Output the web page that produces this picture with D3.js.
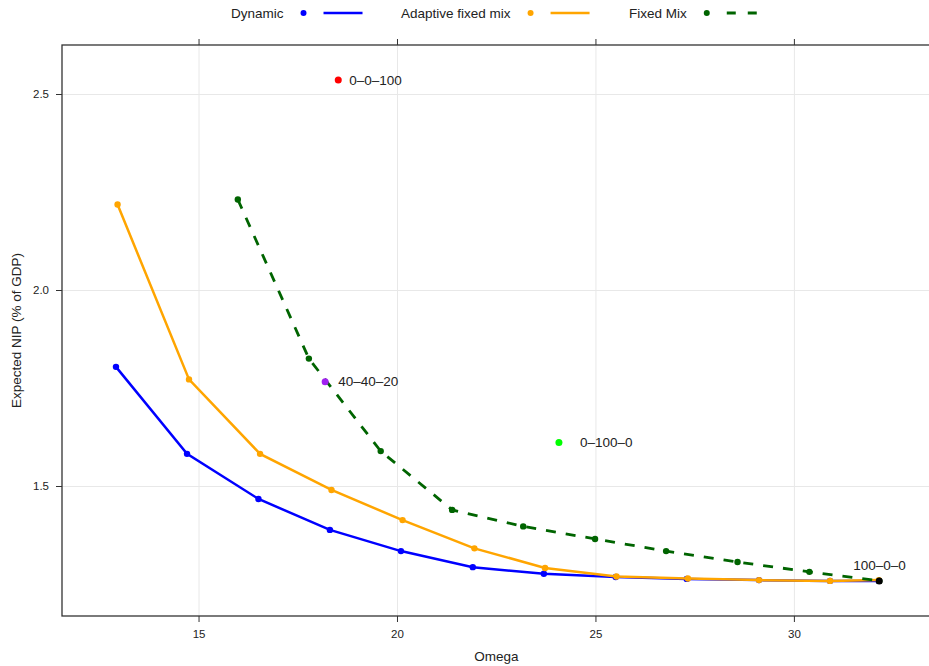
<!DOCTYPE html>
<html>
<head>
<meta charset="utf-8">
<script src="https://cdn.jsdelivr.net/npm/d3@7"></script>
<style>
  body { margin: 0; background: #fff; }
  svg { font-family: "Liberation Sans", Arial, sans-serif; }
  .axis path { display: none; }
  .axis line { stroke: #333; }
  .axis text { font-size: 11.5px; fill: #222; }
  .grid line { stroke: #e8e8e8; stroke-width: 1; }
  .grid path { display: none; }
</style>
</head>
<body>
<svg id="chart" width="929" height="666"></svg>
<script>
'use strict';

// Dynamic strategy
const dynOmega = [12.92, 14.71, 16.51, 18.31, 20.10, 21.91, 23.70, 25.51, 27.30, 29.12, 30.91, 32.14];
const dynNip   = [1.804, 1.582, 1.467, 1.388, 1.334, 1.293, 1.276, 1.268, 1.263, 1.260, 1.258, 1.258];

// Adaptive fixed mix
const adaOmega = [12.96, 14.76, 16.55, 18.35, 20.14, 21.95, 23.73, 25.53, 27.33, 29.12, 30.91, 32.14];
const adaNip   = [2.218, 1.772, 1.582, 1.490, 1.413, 1.341, 1.291, 1.269, 1.264, 1.260, 1.258, 1.260];

// Fixed mix
const fixOmega = [15.99, 17.78, 19.59, 21.39, 23.18, 24.99, 26.78, 28.58, 30.39, 32.15];
const fixNip   = [2.231, 1.825, 1.589, 1.439, 1.397, 1.365, 1.334, 1.306, 1.281, 1.258];

// single portfolios
const mixLabels = ['0\u20130\u2013100', '40\u201340\u201320', '0\u2013100\u20130', '100\u20130\u20130'];
const mixOmega  = [18.52, 18.19, 24.08, 32.15];
const mixNip    = [2.536, 1.766, 1.611, 1.258];

const xTicks = [15, 20, 25, 30];
const yTicks = [1.5, 2.0, 2.5];

const series = [
  { name: 'Dynamic', xs: dynOmega, ys: dynNip, color: '#0000FF', dash: null },
  { name: 'Adaptive fixed mix', xs: adaOmega, ys: adaNip, color: '#FFA500', dash: null },
  { name: 'Fixed Mix', xs: fixOmega, ys: fixNip, color: '#006400', dash: '10,10' }
];
const mixColors = ['#FF0000', '#A020F0', '#00FF00', '#000000'];
const mixOffsets = [[11, 0], [13, 0], [21, 0], [-26, -16]];

const svg = d3.select('#chart');
const m = { left: 62, top: 45, right: 936, bottom: 616 };

const x = d3.scaleLinear().domain([11.56, 33.58]).range([m.left, m.right]);
const y = d3.scaleLinear().domain([1.1684, 2.625]).range([m.bottom, m.top]);

// grid
svg.append('g').attr('class', 'grid')
  .attr('transform', `translate(0,${m.bottom})`)
  .call(d3.axisBottom(x).tickValues(xTicks).tickSize(-(m.bottom - m.top)).tickFormat(''));
svg.append('g').attr('class', 'grid')
  .attr('transform', `translate(${m.left},0)`)
  .call(d3.axisLeft(y).tickValues(yTicks).tickSize(-(m.right - m.left)).tickFormat(''));

// axes
svg.append('g').attr('class', 'axis')
  .attr('transform', `translate(0,${m.bottom})`)
  .call(d3.axisBottom(x).tickValues(xTicks).tickSize(6).tickPadding(8).tickFormat(d3.format('d')));
svg.append('g').attr('class', 'axis')
  .attr('transform', `translate(0,${m.top})`)
  .call(d3.axisTop(x).tickValues(xTicks).tickSize(6).tickFormat(''));
svg.append('g').attr('class', 'axis')
  .attr('transform', `translate(${m.left},0)`)
  .call(d3.axisLeft(y).tickValues(yTicks).tickSize(6).tickPadding(7).tickFormat(d3.format('.1f')));

svg.append('rect')
  .attr('x', m.left).attr('y', m.top)
  .attr('width', m.right - m.left).attr('height', m.bottom - m.top)
  .attr('fill', 'none').attr('stroke', '#333').attr('stroke-width', 1.3);

// axis titles
svg.append('text').attr('x', (m.left + 929) / 2 + 1).attr('y', 661)
  .attr('text-anchor', 'middle').attr('font-size', 13.5).attr('fill', '#222')
  .text('Omega');
svg.append('text')
  .attr('transform', `translate(21,${(m.top + m.bottom) / 2}) rotate(-90)`)
  .attr('text-anchor', 'middle').attr('font-size', 13.5).attr('fill', '#222')
  .text('Expected NIP (% of GDP)');

// lines and points
const line = d3.line().x(d => x(d[0])).y(d => y(d[1]));
series.forEach(s => {
  const pts = s.xs.map((v, i) => [v, s.ys[i]]);
  const g = svg.append('g');
  g.append('path').datum(pts)
    .attr('d', line)
    .attr('fill', 'none')
    .attr('stroke', s.color)
    .attr('stroke-width', s.dash ? 2.8 : 2.5)
    .attr('stroke-dasharray', s.dash);
  g.selectAll('circle').data(pts).join('circle')
    .attr('cx', d => x(d[0])).attr('cy', d => y(d[1]))
    .attr('r', 3.2).attr('fill', s.color);
});

// single mixes
const mix = svg.append('g');
mix.selectAll('circle').data(mixLabels).join('circle')
  .attr('cx', (d, i) => x(mixOmega[i])).attr('cy', (d, i) => y(mixNip[i]))
  .attr('r', 3.5).attr('fill', (d, i) => mixColors[i]);
mix.selectAll('text').data(mixLabels).join('text')
  .attr('x', (d, i) => x(mixOmega[i]) + mixOffsets[i][0])
  .attr('y', (d, i) => y(mixNip[i]) + mixOffsets[i][1])
  .attr('dy', '0.35em')
  .attr('font-size', 13.5).attr('fill', '#222')
  .text(d => d);

// legend
const legendX = [231, 401, 629];
const leg = svg.append('g');
series.forEach((s, i) => {
  const t = leg.append('text').attr('x', legendX[i]).attr('y', 13).attr('dy', '0.35em')
    .attr('font-size', 13.5).attr('fill', '#222').text(s.name);
  const w = t.node().getComputedTextLength();
  const cx = legendX[i] + w + 20;
  leg.append('circle').attr('cx', cx).attr('cy', 13).attr('r', 3).attr('fill', s.color);
  leg.append('line')
    .attr('x1', cx + 20).attr('x2', cx + (s.dash ? 50 : 59))
    .attr('y1', 13).attr('y2', 13)
    .attr('stroke', s.color).attr('stroke-width', s.dash ? 2.8 : 2.5)
    .attr('stroke-dasharray', s.dash ? '9,12' : null);
});
</script>
</body>
</html>
